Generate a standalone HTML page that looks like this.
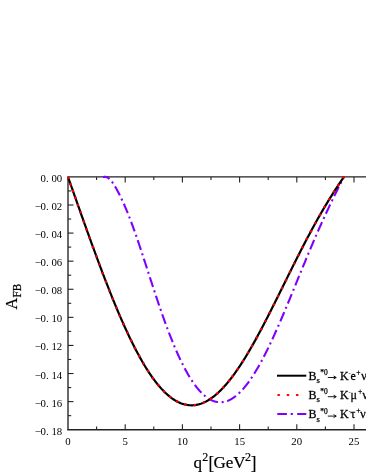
<!DOCTYPE html>
<html><head><meta charset="utf-8"><title>plot</title>
<style>
html,body{margin:0;padding:0;background:#fff;}
body{width:366px;height:473px;overflow:hidden;font-family:"Liberation Serif",serif;}
svg{display:block;will-change:transform;}
text{font-family:"Liberation Serif",serif;fill:#000;}
.tk text{font-size:10.8px;}
</style></head><body>
<svg width="366" height="473" viewBox="0 0 366 473">
<rect width="366" height="473" fill="#fff"/>

<g stroke="#222" stroke-width="1.35" fill="none">
<line x1="67.28" y1="176.9" x2="366" y2="176.9"/>
<line x1="67.28" y1="429.7" x2="366" y2="429.7"/>
<line x1="68.0" y1="176.9" x2="68.0" y2="429.7"/>
</g>
<g stroke="#222" stroke-width="1.1" fill="none">
<line x1="68.0" y1="190.94" x2="71.2" y2="190.94"/>
<line x1="68.0" y1="204.99" x2="73.5" y2="204.99"/>
<line x1="68.0" y1="219.03" x2="71.2" y2="219.03"/>
<line x1="68.0" y1="233.08" x2="73.5" y2="233.08"/>
<line x1="68.0" y1="247.12" x2="71.2" y2="247.12"/>
<line x1="68.0" y1="261.17" x2="73.5" y2="261.17"/>
<line x1="68.0" y1="275.21" x2="71.2" y2="275.21"/>
<line x1="68.0" y1="289.26" x2="73.5" y2="289.26"/>
<line x1="68.0" y1="303.30" x2="71.2" y2="303.30"/>
<line x1="68.0" y1="317.34" x2="73.5" y2="317.34"/>
<line x1="68.0" y1="331.39" x2="71.2" y2="331.39"/>
<line x1="68.0" y1="345.43" x2="73.5" y2="345.43"/>
<line x1="68.0" y1="359.48" x2="71.2" y2="359.48"/>
<line x1="68.0" y1="373.52" x2="73.5" y2="373.52"/>
<line x1="68.0" y1="387.57" x2="71.2" y2="387.57"/>
<line x1="68.0" y1="401.61" x2="73.5" y2="401.61"/>
<line x1="68.0" y1="415.66" x2="71.2" y2="415.66"/>
<line x1="96.60" y1="429.7" x2="96.60" y2="426.5"/>
<line x1="96.60" y1="176.9" x2="96.60" y2="180.1"/>
<line x1="125.20" y1="429.7" x2="125.20" y2="424.2"/>
<line x1="125.20" y1="176.9" x2="125.20" y2="182.4"/>
<line x1="153.80" y1="429.7" x2="153.80" y2="426.5"/>
<line x1="153.80" y1="176.9" x2="153.80" y2="180.1"/>
<line x1="182.40" y1="429.7" x2="182.40" y2="424.2"/>
<line x1="182.40" y1="176.9" x2="182.40" y2="182.4"/>
<line x1="211.00" y1="429.7" x2="211.00" y2="426.5"/>
<line x1="211.00" y1="176.9" x2="211.00" y2="180.1"/>
<line x1="239.60" y1="429.7" x2="239.60" y2="424.2"/>
<line x1="239.60" y1="176.9" x2="239.60" y2="182.4"/>
<line x1="268.20" y1="429.7" x2="268.20" y2="426.5"/>
<line x1="268.20" y1="176.9" x2="268.20" y2="180.1"/>
<line x1="296.80" y1="429.7" x2="296.80" y2="424.2"/>
<line x1="296.80" y1="176.9" x2="296.80" y2="182.4"/>
<line x1="325.40" y1="429.7" x2="325.40" y2="426.5"/>
<line x1="325.40" y1="176.9" x2="325.40" y2="180.1"/>
<line x1="354.00" y1="429.7" x2="354.00" y2="424.2"/>
<line x1="354.00" y1="176.9" x2="354.00" y2="182.4"/>
</g>
<path d="M103.00,177.00 L103.60,176.97 L104.21,176.92 L104.81,176.89 L105.41,176.90 L106.02,176.98 L106.62,177.14 L107.22,177.38 L107.83,177.69 L108.43,178.09 L109.04,178.56 L109.64,179.11 L110.24,179.72 L110.85,180.40 L111.45,181.13 L112.05,181.92 L112.66,182.75 L113.26,183.63 L113.86,184.55 L114.47,185.50 L115.07,186.49 L115.67,187.52 L116.28,188.57 L116.88,189.65 L117.48,190.76 L118.09,191.89 L118.69,193.05 L119.29,194.24 L119.90,195.44 L120.50,196.67 L121.11,197.92 L121.71,199.20 L122.31,200.49 L122.92,201.81 L123.52,203.15 L124.12,204.51 L124.73,205.89 L125.33,207.29 L125.93,208.72 L126.54,210.16 L127.14,211.63 L127.74,213.12 L128.35,214.62 L128.95,216.15 L129.55,217.70 L130.16,219.26 L130.76,220.85 L131.36,222.45 L131.97,224.07 L132.57,225.71 L133.18,227.36 L133.78,229.04 L134.38,230.72 L134.99,232.42 L135.59,234.14 L136.19,235.87 L136.80,237.62 L137.40,239.37 L138.00,241.14 L138.61,242.92 L139.21,244.71 L139.81,246.51 L140.42,248.32 L141.02,250.14 L141.62,251.96 L142.23,253.80 L142.83,255.64 L143.44,257.48 L144.04,259.33 L144.64,261.18 L145.25,263.04 L145.85,264.90 L146.45,266.76 L147.06,268.63 L147.66,270.49 L148.26,272.36 L148.87,274.22 L149.47,276.09 L150.07,277.95 L150.68,279.81 L151.28,281.67 L151.88,283.53 L152.49,285.38 L153.09,287.23 L153.69,289.07 L154.30,290.90 L154.90,292.73 L155.51,294.56 L156.11,296.38 L156.71,298.19 L157.32,299.99 L157.92,301.78 L158.52,303.57 L159.13,305.35 L159.73,307.12 L160.33,308.87 L160.94,310.62 L161.54,312.36 L162.14,314.08 L162.75,315.80 L163.35,317.50 L163.95,319.19 L164.56,320.87 L165.16,322.54 L165.76,324.19 L166.37,325.83 L166.97,327.46 L167.58,329.08 L168.18,330.68 L168.78,332.26 L169.39,333.83 L169.99,335.39 L170.59,336.93 L171.20,338.46 L171.80,339.97 L172.40,341.47 L173.01,342.95 L173.61,344.41 L174.21,345.86 L174.82,347.30 L175.42,348.71 L176.02,350.11 L176.63,351.50 L177.23,352.86 L177.84,354.21 L178.44,355.55 L179.04,356.86 L179.65,358.16 L180.25,359.44 L180.85,360.71 L181.46,361.95 L182.06,363.18 L182.66,364.39 L183.27,365.58 L183.87,366.76 L184.47,367.91 L185.08,369.05 L185.68,370.17 L186.28,371.27 L186.89,372.35 L187.49,373.42 L188.09,374.46 L188.70,375.49 L189.30,376.50 L189.91,377.49 L190.51,378.46 L191.11,379.41 L191.72,380.34 L192.32,381.25 L192.92,382.15 L193.53,383.02 L194.13,383.88 L194.73,384.71 L195.34,385.53 L195.94,386.33 L196.54,387.11 L197.15,387.87 L197.75,388.61 L198.35,389.33 L198.96,390.03 L199.56,390.71 L200.16,391.37 L200.77,392.01 L201.37,392.64 L201.98,393.24 L202.58,393.82 L203.18,394.39 L203.79,394.93 L204.39,395.46 L204.99,395.96 L205.60,396.45 L206.20,396.91 L206.80,397.36 L207.41,397.78 L208.01,398.19 L208.61,398.58 L209.22,398.95 L209.82,399.29 L210.42,399.62 L211.03,399.93 L211.63,400.22 L212.24,400.49 L212.84,400.74 L213.44,400.97 L214.05,401.18 L214.65,401.37 L215.25,401.54 L215.86,401.69 L216.46,401.83 L217.06,401.94 L217.67,402.03 L218.27,402.11 L218.87,402.16 L219.48,402.20 L220.08,402.21 L220.68,402.21 L221.29,402.19 L221.89,402.15 L222.49,402.09 L223.10,402.01 L223.70,401.91 L224.31,401.79 L224.91,401.65 L225.51,401.50 L226.12,401.32 L226.72,401.13 L227.32,400.92 L227.93,400.69 L228.53,400.44 L229.13,400.17 L229.74,399.88 L230.34,399.58 L230.94,399.25 L231.55,398.91 L232.15,398.55 L232.75,398.18 L233.36,397.78 L233.96,397.37 L234.56,396.93 L235.17,396.48 L235.77,396.02 L236.38,395.53 L236.98,395.03 L237.58,394.51 L238.19,393.97 L238.79,393.42 L239.39,392.84 L240.00,392.25 L240.60,391.65 L241.20,391.02 L241.81,390.38 L242.41,389.73 L243.01,389.06 L243.62,388.37 L244.22,387.66 L244.82,386.94 L245.43,386.20 L246.03,385.45 L246.64,384.68 L247.24,383.89 L247.84,383.09 L248.45,382.27 L249.05,381.44 L249.65,380.59 L250.26,379.73 L250.86,378.85 L251.46,377.96 L252.07,377.06 L252.67,376.14 L253.27,375.20 L253.88,374.25 L254.48,373.29 L255.08,372.31 L255.69,371.32 L256.29,370.31 L256.89,369.30 L257.50,368.27 L258.10,367.22 L258.71,366.16 L259.31,365.09 L259.91,364.01 L260.52,362.92 L261.12,361.81 L261.72,360.69 L262.33,359.56 L262.93,358.42 L263.53,357.26 L264.14,356.10 L264.74,354.92 L265.34,353.73 L265.95,352.53 L266.55,351.33 L267.15,350.11 L267.76,348.88 L268.36,347.64 L268.96,346.39 L269.57,345.13 L270.17,343.86 L270.78,342.58 L271.38,341.30 L271.98,340.00 L272.59,338.70 L273.19,337.38 L273.79,336.06 L274.40,334.74 L275.00,333.40 L275.60,332.05 L276.21,330.70 L276.81,329.35 L277.41,327.98 L278.02,326.61 L278.62,325.23 L279.22,323.84 L279.83,322.45 L280.43,321.06 L281.04,319.65 L281.64,318.24 L282.24,316.83 L282.85,315.41 L283.45,313.99 L284.05,312.56 L284.66,311.13 L285.26,309.69 L285.86,308.25 L286.47,306.81 L287.07,305.36 L287.67,303.91 L288.28,302.46 L288.88,301.00 L289.48,299.54 L290.09,298.08 L290.69,296.61 L291.29,295.15 L291.90,293.68 L292.50,292.21 L293.11,290.74 L293.71,289.27 L294.31,287.79 L294.92,286.32 L295.52,284.85 L296.12,283.37 L296.73,281.90 L297.33,280.42 L297.93,278.95 L298.54,277.47 L299.14,276.00 L299.74,274.52 L300.35,273.05 L300.95,271.58 L301.55,270.11 L302.16,268.64 L302.76,267.18 L303.36,265.71 L303.97,264.25 L304.57,262.79 L305.18,261.33 L305.78,259.88 L306.38,258.42 L306.99,256.98 L307.59,255.53 L308.19,254.09 L308.80,252.65 L309.40,251.21 L310.00,249.78 L310.61,248.35 L311.21,246.92 L311.81,245.50 L312.42,244.08 L313.02,242.67 L313.62,241.26 L314.23,239.86 L314.83,238.46 L315.44,237.06 L316.04,235.67 L316.64,234.29 L317.25,232.91 L317.85,231.53 L318.45,230.16 L319.06,228.79 L319.66,227.43 L320.26,226.08 L320.87,224.73 L321.47,223.38 L322.07,222.05 L322.68,220.71 L323.28,219.38 L323.88,218.06 L324.49,216.74 L325.09,215.43 L325.69,214.12 L326.30,212.82 L326.90,211.53 L327.51,210.24 L328.11,208.95 L328.71,207.67 L329.32,206.39 L329.92,205.12 L330.52,203.86 L331.13,202.60 L331.73,201.34 L332.33,200.09 L332.94,198.85 L333.54,197.60 L334.14,196.37 L334.75,195.13 L335.35,193.90 L335.95,192.68 L336.56,191.46 L337.16,190.24 L337.76,189.02 L338.37,187.81 L338.97,186.60 L339.58,185.40 L340.18,184.19 L340.78,182.99 L341.39,181.79 L341.99,180.59 L342.59,179.39 L343.20,178.20 L343.80,177.00" stroke="#7f00ff" stroke-width="2.1" fill="none" stroke-dasharray="10.2 3.65 2 3.65" stroke-dashoffset="3.15"/>
<path d="M68.00,177.00 L68.69,178.95 L69.38,180.90 L70.07,182.85 L70.76,184.80 L71.46,186.75 L72.15,188.70 L72.84,190.66 L73.53,192.61 L74.22,194.57 L74.91,196.52 L75.60,198.47 L76.29,200.43 L76.99,202.38 L77.68,204.33 L78.37,206.29 L79.06,208.24 L79.75,210.19 L80.44,212.14 L81.13,214.08 L81.82,216.03 L82.52,217.97 L83.21,219.92 L83.90,221.86 L84.59,223.79 L85.28,225.73 L85.97,227.66 L86.66,229.59 L87.35,231.52 L88.05,233.44 L88.74,235.37 L89.43,237.28 L90.12,239.20 L90.81,241.11 L91.50,243.01 L92.19,244.92 L92.88,246.82 L93.58,248.71 L94.27,250.60 L94.96,252.48 L95.65,254.36 L96.34,256.24 L97.03,258.11 L97.72,259.97 L98.41,261.83 L99.11,263.68 L99.80,265.53 L100.49,267.37 L101.18,269.21 L101.87,271.03 L102.56,272.86 L103.25,274.67 L103.94,276.48 L104.64,278.28 L105.33,280.07 L106.02,281.86 L106.71,283.64 L107.40,285.41 L108.09,287.18 L108.78,288.93 L109.47,290.68 L110.16,292.42 L110.86,294.15 L111.55,295.88 L112.24,297.59 L112.93,299.29 L113.62,300.99 L114.31,302.68 L115.00,304.36 L115.69,306.02 L116.39,307.68 L117.08,309.33 L117.77,310.97 L118.46,312.60 L119.15,314.22 L119.84,315.83 L120.53,317.42 L121.22,319.01 L121.92,320.59 L122.61,322.15 L123.30,323.71 L123.99,325.25 L124.68,326.78 L125.37,328.30 L126.06,329.81 L126.75,331.31 L127.45,332.80 L128.14,334.27 L128.83,335.73 L129.52,337.18 L130.21,338.62 L130.90,340.04 L131.59,341.45 L132.28,342.85 L132.98,344.24 L133.67,345.61 L134.36,346.97 L135.05,348.31 L135.74,349.65 L136.43,350.97 L137.12,352.27 L137.81,353.57 L138.51,354.84 L139.20,356.11 L139.89,357.36 L140.58,358.59 L141.27,359.82 L141.96,361.02 L142.65,362.22 L143.34,363.40 L144.04,364.56 L144.73,365.71 L145.42,366.84 L146.11,367.96 L146.80,369.07 L147.49,370.15 L148.18,371.23 L148.87,372.29 L149.56,373.33 L150.26,374.36 L150.95,375.37 L151.64,376.36 L152.33,377.34 L153.02,378.31 L153.71,379.26 L154.40,380.19 L155.09,381.11 L155.79,382.01 L156.48,382.89 L157.17,383.76 L157.86,384.61 L158.55,385.44 L159.24,386.26 L159.93,387.06 L160.62,387.85 L161.32,388.62 L162.01,389.37 L162.70,390.10 L163.39,390.82 L164.08,391.52 L164.77,392.21 L165.46,392.87 L166.15,393.52 L166.85,394.15 L167.54,394.77 L168.23,395.37 L168.92,395.95 L169.61,396.51 L170.30,397.06 L170.99,397.59 L171.68,398.10 L172.38,398.59 L173.07,399.07 L173.76,399.53 L174.45,399.97 L175.14,400.40 L175.83,400.80 L176.52,401.19 L177.21,401.56 L177.91,401.92 L178.60,402.25 L179.29,402.57 L179.98,402.87 L180.67,403.16 L181.36,403.42 L182.05,403.67 L182.74,403.90 L183.44,404.11 L184.13,404.31 L184.82,404.49 L185.51,404.65 L186.20,404.79 L186.89,404.91 L187.58,405.02 L188.27,405.11 L188.96,405.18 L189.66,405.24 L190.35,405.27 L191.04,405.29 L191.73,405.29 L192.42,405.28 L193.11,405.24 L193.80,405.19 L194.49,405.13 L195.19,405.04 L195.88,404.94 L196.57,404.82 L197.26,404.68 L197.95,404.53 L198.64,404.36 L199.33,404.17 L200.02,403.96 L200.72,403.74 L201.41,403.50 L202.10,403.24 L202.79,402.97 L203.48,402.68 L204.17,402.37 L204.86,402.05 L205.55,401.71 L206.25,401.36 L206.94,400.98 L207.63,400.59 L208.32,400.19 L209.01,399.77 L209.70,399.33 L210.39,398.88 L211.08,398.41 L211.78,397.92 L212.47,397.42 L213.16,396.90 L213.85,396.37 L214.54,395.82 L215.23,395.26 L215.92,394.68 L216.61,394.08 L217.31,393.48 L218.00,392.85 L218.69,392.21 L219.38,391.56 L220.07,390.89 L220.76,390.20 L221.45,389.51 L222.14,388.79 L222.84,388.07 L223.53,387.32 L224.22,386.57 L224.91,385.80 L225.60,385.02 L226.29,384.22 L226.98,383.41 L227.67,382.58 L228.36,381.75 L229.06,380.90 L229.75,380.03 L230.44,379.16 L231.13,378.27 L231.82,377.36 L232.51,376.45 L233.20,375.52 L233.89,374.58 L234.59,373.63 L235.28,372.67 L235.97,371.69 L236.66,370.70 L237.35,369.70 L238.04,368.69 L238.73,367.67 L239.42,366.64 L240.12,365.59 L240.81,364.54 L241.50,363.47 L242.19,362.40 L242.88,361.31 L243.57,360.21 L244.26,359.11 L244.95,357.99 L245.65,356.86 L246.34,355.73 L247.03,354.58 L247.72,353.43 L248.41,352.26 L249.10,351.09 L249.79,349.91 L250.48,348.72 L251.18,347.52 L251.87,346.31 L252.56,345.10 L253.25,343.87 L253.94,342.64 L254.63,341.40 L255.32,340.16 L256.01,338.90 L256.71,337.64 L257.40,336.38 L258.09,335.10 L258.78,333.82 L259.47,332.53 L260.16,331.24 L260.85,329.94 L261.54,328.64 L262.24,327.33 L262.93,326.01 L263.62,324.69 L264.31,323.36 L265.00,322.03 L265.69,320.69 L266.38,319.35 L267.07,318.01 L267.76,316.66 L268.46,315.30 L269.15,313.95 L269.84,312.58 L270.53,311.22 L271.22,309.85 L271.91,308.48 L272.60,307.11 L273.29,305.73 L273.99,304.35 L274.68,302.97 L275.37,301.58 L276.06,300.20 L276.75,298.81 L277.44,297.42 L278.13,296.02 L278.82,294.63 L279.52,293.24 L280.21,291.84 L280.90,290.45 L281.59,289.05 L282.28,287.65 L282.97,286.25 L283.66,284.85 L284.35,283.46 L285.05,282.06 L285.74,280.66 L286.43,279.26 L287.12,277.87 L287.81,276.47 L288.50,275.08 L289.19,273.68 L289.88,272.29 L290.58,270.90 L291.27,269.51 L291.96,268.12 L292.65,266.74 L293.34,265.36 L294.03,263.98 L294.72,262.60 L295.41,261.22 L296.11,259.85 L296.80,258.48 L297.49,257.11 L298.18,255.74 L298.87,254.38 L299.56,253.03 L300.25,251.67 L300.94,250.32 L301.64,248.97 L302.33,247.63 L303.02,246.29 L303.71,244.96 L304.40,243.63 L305.09,242.30 L305.78,240.98 L306.47,239.66 L307.16,238.35 L307.86,237.04 L308.55,235.74 L309.24,234.44 L309.93,233.15 L310.62,231.86 L311.31,230.58 L312.00,229.30 L312.69,228.03 L313.39,226.76 L314.08,225.50 L314.77,224.25 L315.46,223.00 L316.15,221.76 L316.84,220.52 L317.53,219.29 L318.22,218.06 L318.92,216.85 L319.61,215.63 L320.30,214.43 L320.99,213.22 L321.68,212.03 L322.37,210.84 L323.06,209.66 L323.75,208.48 L324.45,207.31 L325.14,206.15 L325.83,204.99 L326.52,203.84 L327.21,202.70 L327.90,201.56 L328.59,200.43 L329.28,199.30 L329.98,198.18 L330.67,197.07 L331.36,195.96 L332.05,194.86 L332.74,193.77 L333.43,192.68 L334.12,191.59 L334.81,190.52 L335.51,189.44 L336.20,188.38 L336.89,187.32 L337.58,186.26 L338.27,185.21 L338.96,184.17 L339.65,183.13 L340.34,182.10 L341.04,181.07 L341.73,180.04 L342.42,179.03 L343.11,178.01 L343.80,177.00" stroke="#000" stroke-width="2.2" fill="none"/>
<circle cx="68.30" cy="177.85" r="1.3" fill="#f00"/>
<circle cx="70.60" cy="184.33" r="1.3" fill="#f00"/>
<circle cx="73.00" cy="191.11" r="1.3" fill="#f00"/>
<circle cx="75.40" cy="197.90" r="1.3" fill="#f00"/>
<circle cx="77.90" cy="204.96" r="1.3" fill="#f00"/>
<circle cx="80.50" cy="212.30" r="1.3" fill="#f00"/>
<circle cx="83.80" cy="221.58" r="1.3" fill="#f00"/>
<circle cx="86.60" cy="229.42" r="1.3" fill="#f00"/>
<circle cx="89.60" cy="237.76" r="1.3" fill="#f00"/>
<circle cx="93.00" cy="247.13" r="1.3" fill="#f00"/>
<circle cx="96.40" cy="256.40" r="1.3" fill="#f00"/>
<circle cx="99.40" cy="264.47" r="1.3" fill="#f00"/>
<circle cx="102.70" cy="273.22" r="1.3" fill="#f00"/>
<circle cx="106.00" cy="281.82" r="1.3" fill="#f00"/>
<circle cx="109.40" cy="290.50" r="1.3" fill="#f00"/>
<circle cx="112.70" cy="298.73" r="1.3" fill="#f00"/>
<circle cx="116.40" cy="307.72" r="1.3" fill="#f00"/>
<circle cx="119.70" cy="315.50" r="1.3" fill="#f00"/>
<circle cx="123.50" cy="324.16" r="1.3" fill="#f00"/>
<circle cx="127.50" cy="332.91" r="1.3" fill="#f00"/>
<circle cx="131.20" cy="340.65" r="1.3" fill="#f00"/>
<circle cx="135.00" cy="348.22" r="1.3" fill="#f00"/>
<circle cx="139.20" cy="356.11" r="1.3" fill="#f00"/>
<circle cx="143.40" cy="363.49" r="1.3" fill="#f00"/>
<circle cx="148.10" cy="371.10" r="1.3" fill="#f00"/>
<circle cx="152.90" cy="378.14" r="1.3" fill="#f00"/>
<circle cx="158.40" cy="385.26" r="1.3" fill="#f00"/>
<circle cx="164.00" cy="391.44" r="1.3" fill="#f00"/>
<circle cx="170.30" cy="397.06" r="1.3" fill="#f00"/>
<circle cx="177.20" cy="401.56" r="1.3" fill="#f00"/>
<circle cx="185.60" cy="404.67" r="1.3" fill="#f00"/>
<circle cx="194.70" cy="405.10" r="1.3" fill="#f00"/>
<circle cx="203.80" cy="402.54" r="1.3" fill="#f00"/>
<circle cx="210.70" cy="398.67" r="1.3" fill="#f00"/>
<circle cx="217.40" cy="393.39" r="1.3" fill="#f00"/>
<circle cx="223.40" cy="387.46" r="1.3" fill="#f00"/>
<circle cx="229.10" cy="380.84" r="1.3" fill="#f00"/>
<circle cx="232.60" cy="376.33" r="1.3" fill="#f00"/>
<circle cx="237.70" cy="369.19" r="1.3" fill="#f00"/>
<circle cx="243.00" cy="361.12" r="1.3" fill="#f00"/>
<circle cx="248.10" cy="352.79" r="1.3" fill="#f00"/>
<circle cx="252.10" cy="345.90" r="1.3" fill="#f00"/>
<circle cx="256.80" cy="337.47" r="1.3" fill="#f00"/>
<circle cx="261.20" cy="329.29" r="1.3" fill="#f00"/>
<circle cx="265.50" cy="321.06" r="1.3" fill="#f00"/>
<circle cx="269.70" cy="312.86" r="1.3" fill="#f00"/>
<circle cx="273.90" cy="304.52" r="1.3" fill="#f00"/>
<circle cx="278.10" cy="296.09" r="1.3" fill="#f00"/>
<circle cx="282.10" cy="288.02" r="1.3" fill="#f00"/>
<circle cx="285.90" cy="280.33" r="1.3" fill="#f00"/>
<circle cx="290.10" cy="271.86" r="1.3" fill="#f00"/>
<circle cx="294.30" cy="263.44" r="1.3" fill="#f00"/>
<circle cx="298.40" cy="255.31" r="1.3" fill="#f00"/>
<circle cx="302.50" cy="247.29" r="1.3" fill="#f00"/>
<circle cx="306.80" cy="239.04" r="1.3" fill="#f00"/>
<circle cx="310.90" cy="231.34" r="1.3" fill="#f00"/>
<circle cx="315.40" cy="223.11" r="1.3" fill="#f00"/>
<circle cx="320.10" cy="214.77" r="1.3" fill="#f00"/>
<circle cx="324.60" cy="207.05" r="1.3" fill="#f00"/>
<circle cx="329.30" cy="199.28" r="1.3" fill="#f00"/>
<circle cx="334.10" cy="191.63" r="1.3" fill="#f00"/>
<circle cx="338.30" cy="185.17" r="1.3" fill="#f00"/>
<circle cx="343.60" cy="177.29" r="1.3" fill="#f00"/>
<g class="tk">
<text x="43.16" y="181.90" text-anchor="middle">0</text>
<text x="47.42" y="181.90" text-anchor="middle">.</text>
<text x="54.09" y="181.90" text-anchor="middle">0</text>
<text x="59.56" y="181.90" text-anchor="middle">0</text>
<text x="37.69" y="209.99" text-anchor="middle">−</text>
<text x="43.16" y="209.99" text-anchor="middle">0</text>
<text x="47.42" y="209.99" text-anchor="middle">.</text>
<text x="54.09" y="209.99" text-anchor="middle">0</text>
<text x="59.56" y="209.99" text-anchor="middle">2</text>
<text x="37.69" y="238.08" text-anchor="middle">−</text>
<text x="43.16" y="238.08" text-anchor="middle">0</text>
<text x="47.42" y="238.08" text-anchor="middle">.</text>
<text x="54.09" y="238.08" text-anchor="middle">0</text>
<text x="59.56" y="238.08" text-anchor="middle">4</text>
<text x="37.69" y="266.17" text-anchor="middle">−</text>
<text x="43.16" y="266.17" text-anchor="middle">0</text>
<text x="47.42" y="266.17" text-anchor="middle">.</text>
<text x="54.09" y="266.17" text-anchor="middle">0</text>
<text x="59.56" y="266.17" text-anchor="middle">6</text>
<text x="37.69" y="294.26" text-anchor="middle">−</text>
<text x="43.16" y="294.26" text-anchor="middle">0</text>
<text x="47.42" y="294.26" text-anchor="middle">.</text>
<text x="54.09" y="294.26" text-anchor="middle">0</text>
<text x="59.56" y="294.26" text-anchor="middle">8</text>
<text x="37.69" y="322.34" text-anchor="middle">−</text>
<text x="43.16" y="322.34" text-anchor="middle">0</text>
<text x="47.42" y="322.34" text-anchor="middle">.</text>
<text x="54.09" y="322.34" text-anchor="middle">1</text>
<text x="59.56" y="322.34" text-anchor="middle">0</text>
<text x="37.69" y="350.43" text-anchor="middle">−</text>
<text x="43.16" y="350.43" text-anchor="middle">0</text>
<text x="47.42" y="350.43" text-anchor="middle">.</text>
<text x="54.09" y="350.43" text-anchor="middle">1</text>
<text x="59.56" y="350.43" text-anchor="middle">2</text>
<text x="37.69" y="378.52" text-anchor="middle">−</text>
<text x="43.16" y="378.52" text-anchor="middle">0</text>
<text x="47.42" y="378.52" text-anchor="middle">.</text>
<text x="54.09" y="378.52" text-anchor="middle">1</text>
<text x="59.56" y="378.52" text-anchor="middle">4</text>
<text x="37.69" y="406.61" text-anchor="middle">−</text>
<text x="43.16" y="406.61" text-anchor="middle">0</text>
<text x="47.42" y="406.61" text-anchor="middle">.</text>
<text x="54.09" y="406.61" text-anchor="middle">1</text>
<text x="59.56" y="406.61" text-anchor="middle">6</text>
<text x="37.69" y="434.70" text-anchor="middle">−</text>
<text x="43.16" y="434.70" text-anchor="middle">0</text>
<text x="47.42" y="434.70" text-anchor="middle">.</text>
<text x="54.09" y="434.70" text-anchor="middle">1</text>
<text x="59.56" y="434.70" text-anchor="middle">8</text>
<text x="68.00" y="444.6" text-anchor="middle">0</text>
<text x="125.20" y="444.6" text-anchor="middle">5</text>
<text x="179.66" y="444.6" text-anchor="middle">1</text>
<text x="185.13" y="444.6" text-anchor="middle">0</text>
<text x="236.87" y="444.6" text-anchor="middle">1</text>
<text x="242.34" y="444.6" text-anchor="middle">5</text>
<text x="294.06" y="444.6" text-anchor="middle">2</text>
<text x="299.53" y="444.6" text-anchor="middle">0</text>
<text x="351.26" y="444.6" text-anchor="middle">2</text>
<text x="356.74" y="444.6" text-anchor="middle">5</text>
</g>
<g font-size="17px" stroke="#000" stroke-width="0.2"><text x="193.5" y="467.9">q</text><text x="202.3" y="460.7" font-size="12px">2</text><text transform="translate(208.4,468.7) scale(1,1.05)">[</text><text x="213.5" y="467.9">GeV</text><text x="245.1" y="460.7" font-size="12px">2</text><text transform="translate(250.75,468.7) scale(1,1.05)">]</text></g>
<text transform="translate(16.5,309.5) rotate(-90) scale(0.95,1.02)" font-size="17px" stroke="#000" stroke-width="0.2">A</text>
<text transform="translate(20.6,297.5) rotate(-90) scale(1.03,1.12)" font-size="11px" stroke="#000" stroke-width="0.2">FB</text>
<line x1="277" y1="375.7" x2="306.3" y2="375.7" stroke="#000" stroke-width="2"/>
<rect x="277.45" y="393.90" width="2.5" height="2.1" rx="0.6" fill="#f00"/>
<rect x="286.75" y="393.90" width="2.5" height="2.1" rx="0.6" fill="#f00"/>
<rect x="295.95" y="393.90" width="2.5" height="2.1" rx="0.6" fill="#f00"/>
<path d="M277.3,413.9 H286.9 M290.7,413.9 H292.9 M297.2,413.9 H306.3" stroke="#7f00ff" stroke-width="2" fill="none"/>
<text transform="translate(308.5,379.5) scale(1,1.04)" font-size="12px" stroke="#000" stroke-width="0.25">B</text><text transform="translate(316.5,383.2) scale(1,1.0)" font-size="8.6px" stroke="#000" stroke-width="0.25">s</text><text transform="translate(320.3,375.1) scale(1,1.0)" font-size="7.4px" stroke="#000" stroke-width="0.25">*0</text><path d="M327.8,377.5 H335.8 M333.6,376.0 L336.3,377.5 L333.6,379.0" stroke="#000" stroke-width="0.9" fill="none"/><text transform="translate(340.0,379.5) scale(1,1.04)" font-size="12px" stroke="#000" stroke-width="0.25">K</text><text transform="translate(348.5,374.5) scale(1,1.0)" font-size="7.0px" fill="#111">-</text><text transform="translate(350.5,379.5) scale(1,1.04)" font-size="12px" stroke="#000" stroke-width="0.25">e</text><text transform="translate(356.2,374.7) scale(1,1.0)" font-size="7.6px" stroke="#000" stroke-width="0.25">+</text><text transform="translate(361.2,379.5) scale(1,1.04)" font-size="12px" stroke="#000" stroke-width="0.25">ν</text>
<text transform="translate(308.5,398.7) scale(1,1.04)" font-size="12px" stroke="#000" stroke-width="0.25">B</text><text transform="translate(316.5,402.4) scale(1,1.0)" font-size="8.6px" stroke="#000" stroke-width="0.25">s</text><text transform="translate(320.3,394.3) scale(1,1.0)" font-size="7.4px" stroke="#000" stroke-width="0.25">*0</text><path d="M327.8,396.7 H335.8 M333.6,395.2 L336.3,396.7 L333.6,398.2" stroke="#000" stroke-width="0.9" fill="none"/><text transform="translate(340.0,398.7) scale(1,1.04)" font-size="12px" stroke="#000" stroke-width="0.25">K</text><text transform="translate(348.5,393.7) scale(1,1.0)" font-size="7.0px" fill="#111">-</text><text transform="translate(350.5,398.7) scale(1,1.04)" font-size="12px" stroke="#000" stroke-width="0.25">μ</text><text transform="translate(358.0,393.9) scale(1,1.0)" font-size="7.6px" stroke="#000" stroke-width="0.25">+</text><text transform="translate(362.6,398.7) scale(1,1.04)" font-size="12px" stroke="#000" stroke-width="0.25">ν</text>
<text transform="translate(308.5,418.1) scale(1,1.04)" font-size="12px" stroke="#000" stroke-width="0.25">B</text><text transform="translate(316.5,421.8) scale(1,1.0)" font-size="8.6px" stroke="#000" stroke-width="0.25">s</text><text transform="translate(320.3,413.70000000000005) scale(1,1.0)" font-size="7.4px" stroke="#000" stroke-width="0.25">*0</text><path d="M327.8,416.1 H335.8 M333.6,414.6 L336.3,416.1 L333.6,417.6" stroke="#000" stroke-width="0.9" fill="none"/><text transform="translate(340.0,418.1) scale(1,1.04)" font-size="12px" stroke="#000" stroke-width="0.25">K</text><text transform="translate(348.5,413.1) scale(1,1.0)" font-size="7.0px" fill="#111">-</text><text transform="translate(350.5,418.1) scale(1,1.04)" font-size="12px" stroke="#000" stroke-width="0.25">τ</text><text transform="translate(356.2,413.3) scale(1,1.0)" font-size="7.6px" stroke="#000" stroke-width="0.25">+</text><text transform="translate(360.3,418.1) scale(1,1.04)" font-size="12px" stroke="#000" stroke-width="0.25">ν</text>
</svg></body></html>
